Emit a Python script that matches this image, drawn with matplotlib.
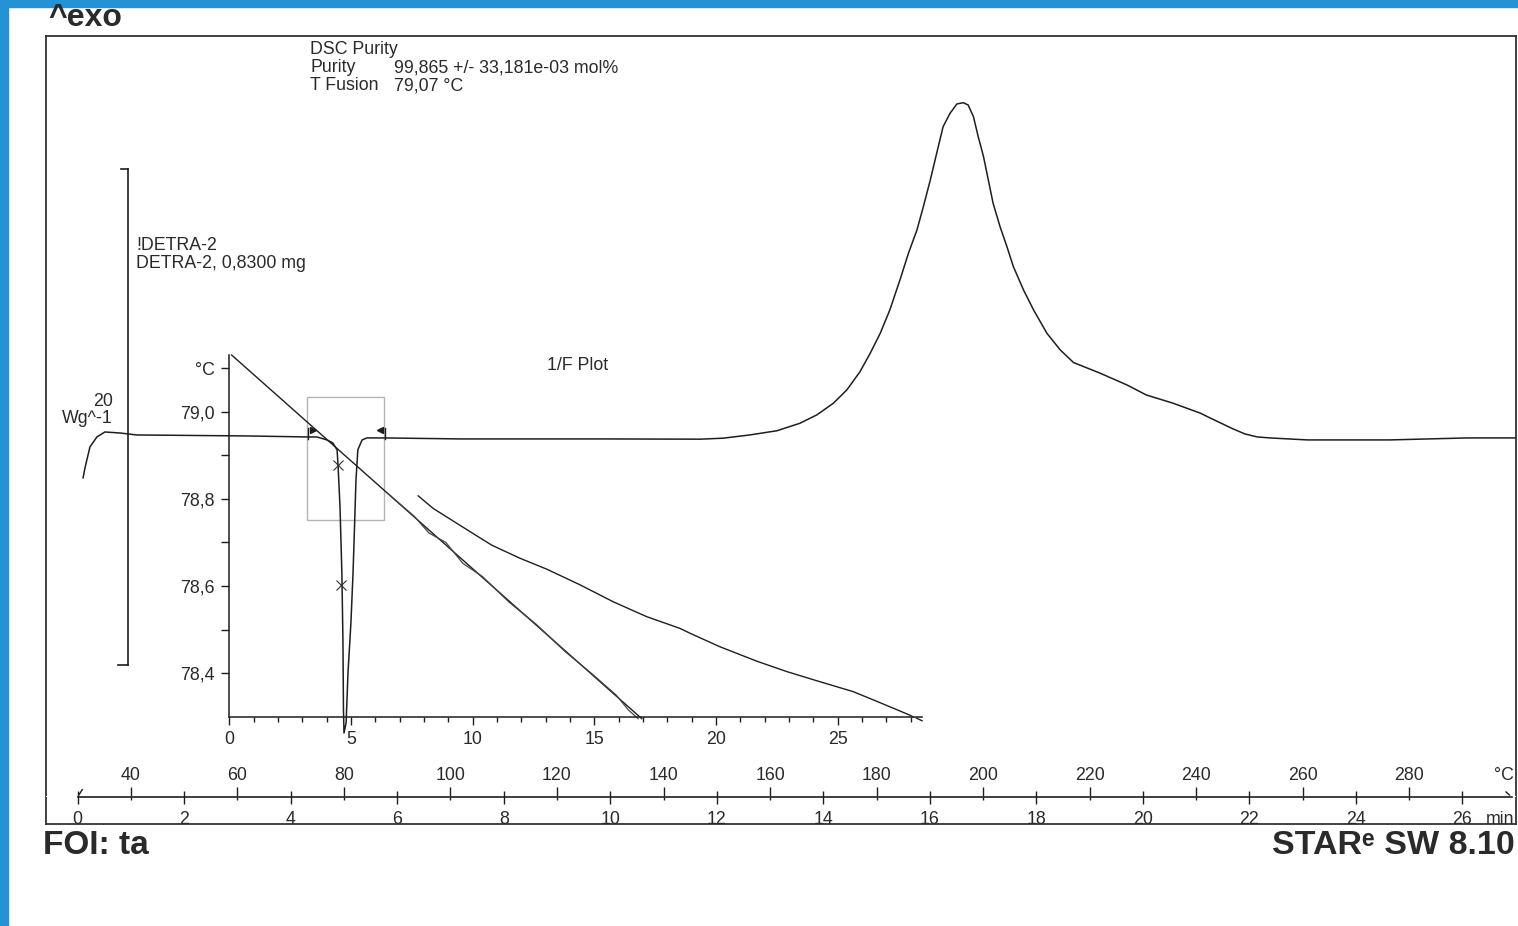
import matplotlib
matplotlib.use("Agg")
import matplotlib.pyplot as plt
from matplotlib.patches import Rectangle

# ---------------- data ----------------
# DSC curve: temperature (°C) vs heat flow (W/g, exo up)
dsc_temp = [31.0, 31.4, 32.3, 33.6, 35.1, 37.9, 41.1, 61.8, 73.1, 74.9, 76.8, 77.9,
            78.7, 78.9, 79.25, 79.6, 79.8, 79.9, 80.0, 80.4, 80.75, 81.3, 81.7, 82.0,
            82.25, 82.6, 83.4, 84.3, 87.7, 101.8, 128.1, 146.9, 151.2, 156.2, 161.3,
            165.6, 168.8, 171.9, 174.4, 176.9, 178.8, 180.7, 182.5, 184.4, 186.0, 187.6,
            188.8, 190.1, 191.3, 192.5, 193.8, 195.1, 196.3, 197.2, 198.2, 199.1, 200.1,
            201.0, 201.9, 203.2, 204.5, 205.7, 207.6, 209.5, 212.0, 214.5, 217.0, 222.0,
            227.0, 230.7, 235.7, 240.8, 242.6, 247.0, 249.2, 251.5, 253.9, 260.9, 276.4,
            290.9, 299.9]
dsc_flow = [-1.69, -1.25, -0.44, -0.04, 0.16, 0.12, 0.04, 0.00, -0.04, -0.04, -0.16, -0.28,
            -0.56, -1.25, -2.86, -5.52, -8.23, -11.05, -11.98, -11.57, -9.56, -7.54, -5.52, -3.51,
            -1.77, -0.56, -0.16, -0.08, -0.08, -0.12, -0.12, -0.13, -0.09, 0.04, 0.21,
            0.51, 0.85, 1.32, 1.85, 2.59, 3.33, 4.14, 5.08, 6.29, 7.37, 8.31,
            9.25, 10.32, 11.40, 12.47, 13.01, 13.39, 13.44, 13.35, 12.88, 12.07, 11.26,
            10.32, 9.38, 8.44, 7.63, 6.83, 5.89, 5.08, 4.14, 3.47, 2.96, 2.53,
            2.06, 1.65, 1.32, 0.92, 0.73, 0.28, 0.08, -0.04, -0.08, -0.16, -0.16,
            -0.08, -0.08]

# partial-area markers on the melting peak
mark_temp = [78.87, 79.44]
mark_flow = [-1.17, -6.01]

# integration limits and zoom rectangle (°C, W/g)
limit_temp = [73.24, 87.70]
rect_temp = [73.05, 87.51]
rect_flow = [-3.39, 1.57]

# scale bar: 20 W/g
scale_bar_value = 20
scale_bar_bottom = -9.23
scale_bar_temp = 39.44

# 1/F plot (x = 1/F, y = °C)
fit_x = [0.09, 16.95]
fit_y = [79.130, 78.296]
corr_x = [6.5, 7.6, 8.2, 8.9, 9.6, 10.4, 11.5, 12.6, 13.8, 14.9, 15.9, 16.4, 16.8]
corr_y = [78.813, 78.760, 78.722, 78.700, 78.652, 78.622, 78.563, 78.513, 78.450,
          78.399, 78.350, 78.316, 78.296]
meas_x = [7.76, 8.38, 9.89, 10.78, 11.94, 13.04, 14.41, 15.78, 17.15, 18.52, 18.93,
          20.16, 21.67, 22.91, 24.14, 25.64, 26.47, 27.29, 27.97, 28.11]
meas_y = [78.807, 78.778, 78.725, 78.694, 78.664, 78.639, 78.603, 78.564, 78.530,
          78.503, 78.492, 78.461, 78.428, 78.404, 78.383, 78.358, 78.339, 78.320,
          78.304, 78.300]

inset_xticks = [0, 5, 10, 15, 20, 25]
inset_yticks = [79.1, 79.0, 78.9, 78.8, 78.7, 78.6, 78.5, 78.4]
inset_ylabels = ["°C", "79,0", "", "78,8", "", "78,6", "", "78,4"]

# bottom scale
temp_labels = [40, 60, 80, 100, 120, 140, 160, 180, 200, 220, 240, 260, 280]
min_labels = [0, 2, 4, 6, 8, 10, 12, 14, 16, 18, 20, 22, 24, 26]
start_temp = 30.0
heating_rate = 10.0  # K/min

# ---------------- layout helpers ----------------
W_PX, H_PX = 1518, 926
INK = "#1e1e1e"
TXT = "#2a2a2a"
FONT = "Liberation Sans"
PT = 0.72  # points per pixel at 100 dpi
FS = 12.8


def fx(px):
    return px / W_PX


def fy(py):
    return 1 - py / H_PX


fig = plt.figure(figsize=(W_PX / 100, H_PX / 100), dpi=100)
fig.patch.set_facecolor("white")

# blue scan border
fig.patches.append(Rectangle((0, fy(7)), 1, 7 / H_PX, transform=fig.transFigure,
                             color="#2493d5", zorder=0))
fig.patches.append(Rectangle((0, 0), fx(8), 1, transform=fig.transFigure,
                             color="#2493d5", zorder=0))

# ---------------- main DSC axes ----------------
L, R, T, B = 46, 1516, 36, 824
ax = fig.add_axes([fx(L), fy(B), fx(R - L), (B - T) / H_PX])
ax.set_xlim(24.04, 300.09)
ax.set_ylim(-15.65, 16.13)
ax.set_xticks([])
ax.set_yticks([])
for s in ax.spines.values():
    s.set_color("#333333")
    s.set_linewidth(1.3)
ax.set_facecolor("white")

ax.plot(dsc_temp, dsc_flow, color=INK, lw=1.1, zorder=3, solid_joinstyle="round")
ax.plot(mark_temp, mark_flow, ls="none", marker="x", ms=7, mew=0.8, color="#333333", zorder=4)

# integration limits
for t in limit_temp:
    ax.plot([t, t], [-0.12, 0.32], color=INK, lw=1.0)
ax.plot([limit_temp[0] + 0.9], [0.22], marker=">", ms=5, color=INK)
ax.plot([limit_temp[1] - 0.9], [0.22], marker="<", ms=5, color=INK)

ax.add_patch(Rectangle((rect_temp[0], rect_flow[0]), rect_temp[1] - rect_temp[0],
                       rect_flow[1] - rect_flow[0], fill=False, ec="#b4b4b4", lw=1.0))

# scale bar bracket
sb_top = scale_bar_bottom + scale_bar_value
ax.plot([scale_bar_temp, scale_bar_temp], [scale_bar_bottom, sb_top], color=INK, lw=1.2)
ax.plot([scale_bar_temp - 1.4, scale_bar_temp], [sb_top, sb_top], color=INK, lw=1.2)
ax.plot([scale_bar_temp - 1.9, scale_bar_temp], [scale_bar_bottom, scale_bar_bottom], color=INK, lw=1.2)

# ---------------- 1/F inset ----------------
iL, iR, iT, iB = 229.4, 922, 355, 716.7
ax2 = fig.add_axes([fx(iL), fy(iB), fx(iR - iL), (iB - iT) / H_PX])
ax2.set_facecolor("none")
ax2.set_xlim(0, 28.47)
ax2.set_ylim(78.3005, 79.130)
ax2.spines["top"].set_visible(False)
ax2.spines["right"].set_visible(False)
for s in ("left", "bottom"):
    ax2.spines[s].set_color(INK)
    ax2.spines[s].set_linewidth(1.1)
ax2.set_xticks(inset_xticks)
ax2.set_xticklabels([str(v) for v in inset_xticks])
ax2.set_xticks(range(0, 29), minor=True)
ax2.set_yticks(inset_yticks)
ax2.set_yticklabels(inset_ylabels)
ax2.tick_params(axis="x", which="major", length=8 * PT, width=1.0, color=INK, pad=6 * PT,
                labelsize=FS, labelcolor=TXT)
ax2.tick_params(axis="x", which="minor", length=5 * PT, width=1.0, color=INK)
ax2.tick_params(axis="y", which="major", length=8 * PT, width=1.0, color=INK, pad=7 * PT,
                labelsize=FS, labelcolor=TXT)
for lab in ax2.get_xticklabels() + ax2.get_yticklabels():
    lab.set_fontfamily(FONT)

ax2.plot(fit_x, fit_y, color=INK, lw=1.0, clip_on=False)
ax2.plot(corr_x, corr_y, color="#444444", lw=0.9, clip_on=False)
ax2.plot(meas_x, meas_y, color=INK, lw=1.0, clip_on=False)
ax2.annotate("", xy=(1.004, -0.015), xycoords="axes fraction",
             xytext=(0.988, 0.0), textcoords="axes fraction",
             arrowprops=dict(arrowstyle="-", color=INK, lw=1.0))

# ---------------- bottom time / temperature scale ----------------
sY = 797
ax3 = fig.add_axes([fx(L), fy(sY), fx(R - L), 0.5 / H_PX])
ax3.set_facecolor("none")
tmin = (24.04 - start_temp) / heating_rate
tmax = (300.09 - start_temp) / heating_rate
ax3.set_xlim(tmin, tmax)
ax3.set_yticks([])
for s in ("top", "left", "right"):
    ax3.spines[s].set_visible(False)
ax3.spines["bottom"].set_color(INK)
ax3.spines["bottom"].set_linewidth(1.2)
ax3.spines["bottom"].set_bounds(0, 26.93)
ax3.set_xticks(min_labels)
ax3.set_xticklabels([str(m) for m in min_labels])
ax3.set_xticks([(t - start_temp) / heating_rate for t in temp_labels], minor=True)
ax3.tick_params(axis="x", which="major", direction="inout", length=13 * PT, width=1.0,
                color=INK, pad=7 * PT, labelsize=FS, labelcolor=TXT)
ax3.tick_params(axis="x", which="minor", direction="out", length=3 * PT, width=1.0, color=INK)
for lab in ax3.get_xticklabels():
    lab.set_fontfamily(FONT)

sec = ax3.secondary_xaxis("top", functions=(lambda m: start_temp + heating_rate * m,
                                            lambda t: (t - start_temp) / heating_rate))
sec.set_xticks(temp_labels)
sec.set_xticklabels([str(t) for t in temp_labels])
sec.spines["top"].set_visible(False)
sec.tick_params(axis="x", direction="out", length=9 * PT, width=1.0, color=INK, pad=3 * PT,
                labelsize=FS, labelcolor=TXT)
for lab in sec.get_xticklabels():
    lab.set_fontfamily(FONT)

ax3.annotate("", xy=(26.93, 0), xycoords=("data", "axes fraction"),
             xytext=(-8, 7), textcoords="offset pixels",
             arrowprops=dict(arrowstyle="-", color=INK, lw=1.0))
ax3.annotate("", xy=(0, 0), xycoords=("data", "axes fraction"),
             xytext=(6, 10), textcoords="offset pixels",
             arrowprops=dict(arrowstyle="-", color=INK, lw=1.0))

# ---------------- texts ----------------
def t(px, py, s, size=FS, ha="left", weight="normal", family=FONT, **kw):
    return fig.text(fx(px), fy(py), s, ha=ha, va="center", fontsize=size, fontweight=weight,
                    color=TXT, family=family, **kw)


t(48, 18, "^exo", size=23, weight="bold")
t(310, 49, "DSC Purity")
t(310, 68, "Purity")
t(394, 68, "99,865 +/- 33,181e-03 mol%")
t(310, 86, "T Fusion")
t(394, 86, "79,07 °C")
t(136, 246, "!DETRA-2")
t(136, 264, "DETRA-2, 0,8300 mg")
t(113, 401, "20", ha="right")
t(113, 419, "Wg^-1", ha="right")
t(547, 366, "1/F Plot")
t(1514, 776, "°C", ha="right")
t(1514, 819, "min", ha="right")
t(43, 845, "FOI: ta", size=24, weight="bold")
t(1515, 845, "STAR\u1d49 SW 8.10", size=24.5, weight="bold", ha="right",
  family=[FONT, "DejaVu Sans"])

fig.savefig("out.png", dpi=100, facecolor="white")
